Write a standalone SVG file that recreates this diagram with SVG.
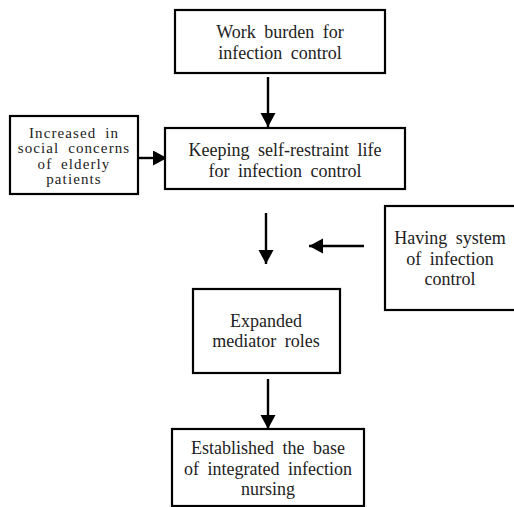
<svg xmlns="http://www.w3.org/2000/svg" width="514" height="507" viewBox="0 0 514 507">
<style>
.box{fill:#fff;stroke:#000;stroke-width:2.2}
.t{font-family:"Liberation Serif","Times New Roman",serif;font-size:18px;fill:#222;text-anchor:middle;word-spacing:4px}
.s{font-size:15px;letter-spacing:1.1px;word-spacing:4px}
.c{stroke:#000;stroke-width:2.4;fill:none;marker-end:url(#ah)}
</style>
<defs>
<marker id="ah" markerUnits="userSpaceOnUse" markerWidth="16" markerHeight="16" refX="14" refY="7.5" orient="auto">
<path d="M0,0 L14,7.5 L0,15 Z" fill="#000"/>
</marker>
</defs>
<rect width="514" height="507" fill="#fff"/>
<g id="connectors">
<line class="c" x1="268" y1="77" x2="268" y2="127"/>
<line class="c" x1="137" y1="158" x2="167" y2="158"/>
<line class="c" x1="266" y1="213" x2="266" y2="264"/>
<line class="c" x1="364" y1="246" x2="309" y2="246"/>
<line class="c" x1="268" y1="379" x2="268" y2="429"/>
</g>
<g id="n1">
<rect class="box" x="175" y="10" width="210" height="63"/>
<text class="t" x="280" y="38">Work burden for</text>
<text class="t" x="280" y="59">infection control</text>
</g>
<g id="n2">
<rect class="box" x="165" y="128" width="240" height="61"/>
<text class="t" x="285" y="156">Keeping self-restraint life</text>
<text class="t" x="285" y="177">for infection control</text>
</g>
<g id="n3">
<rect class="box" x="10" y="116" width="128" height="78"/>
<text class="t s" x="74" y="137.5">Increased in</text>
<text class="t s" x="74" y="153">social concerns</text>
<text class="t s" x="74" y="168.5">of elderly</text>
<text class="t s" x="74" y="184">patients</text>
</g>
<g id="n4">
<rect class="box" x="385" y="206" width="131" height="104"/>
<text class="t" x="450" y="244">Having system</text>
<text class="t" x="450" y="265">of infection</text>
<text class="t" x="450" y="285">control</text>
</g>
<g id="n5">
<rect class="box" x="193" y="289" width="147" height="84"/>
<text class="t" x="266" y="327">Expanded</text>
<text class="t" x="266" y="347">mediator roles</text>
</g>
<g id="n6">
<rect class="box" x="172" y="429" width="192" height="77"/>
<text class="t" x="268" y="454">Established the base</text>
<text class="t" x="268" y="475">of integrated infection</text>
<text class="t" x="268" y="495">nursing</text>
</g>
</svg>
